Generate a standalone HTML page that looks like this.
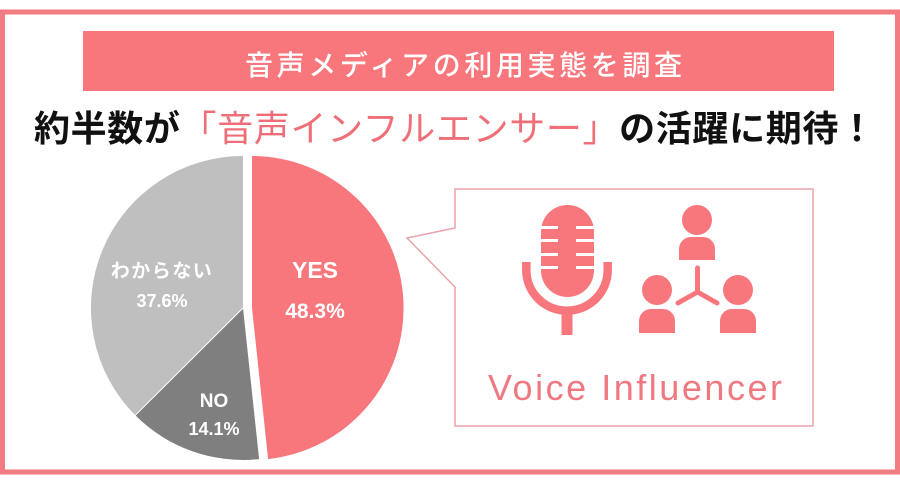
<!DOCTYPE html>
<html><head><meta charset="utf-8"><style>
html,body{margin:0;padding:0;background:#fff;}
svg{display:block;}
text{font-family:"Liberation Sans","Noto Sans CJK JP",sans-serif;}
.jp{font-family:"Noto Sans CJK JP","Liberation Sans",sans-serif;}
</style></head><body>
<svg width="900" height="490" viewBox="0 0 900 490" xmlns="http://www.w3.org/2000/svg">
<rect x="0" y="0" width="900" height="490" fill="#fff"/>
<!-- outer frame -->
<rect x="2.5" y="12" width="895" height="460" fill="#fff" stroke="#f37b82" stroke-width="5"/>
<!-- banner -->
<rect x="83" y="31" width="751" height="60" fill="#f8777d"/>
<text class="jp" x="245" y="75" font-size="28" font-weight="500" fill="#fff" textLength="437" lengthAdjust="spacing">音声メディアの利用実態を調査</text>
<!-- headline -->
<text class="jp" x="34" y="141" font-size="36" font-weight="bold" fill="#111" textLength="841" lengthAdjust="spacing">約半数が<tspan fill="#ef6f78" font-weight="normal">「音声インフルエンサー」</tspan>の活躍に期待！</text>

<!-- pie: center (243,308), r 152 -->
<!-- gray わからない from 224.6deg to 360 -->
<path d="M243 308 L135.3 415.3 A152 152 0 0 1 243 156 Z" fill="#bfbfbf"/>
<!-- NO from 173.9 to 224.6 -->
<path d="M243 308 L259.1 459.1 A152 152 0 0 1 135.3 415.3 Z" fill="#7f7f7f"/>
<line x1="243" y1="308" x2="135.3" y2="415.3" stroke="#fff" stroke-width="1"/>
<!-- YES offset +9 -->
<path d="M252 308 L252 156 A152 152 0 0 1 268.1 459.1 Z" fill="#f8777d"/>

<text x="162" y="277" class="jp" font-size="19" font-weight="bold" fill="#fff" text-anchor="middle" letter-spacing="1.5">わからない</text>
<text x="162" y="307" font-size="18" font-weight="bold" fill="#fff" text-anchor="middle">37.6%</text>
<text x="214" y="407" font-size="19" font-weight="bold" fill="#fff" text-anchor="middle">NO</text>
<text x="214" y="435" font-size="18" font-weight="bold" fill="#fff" text-anchor="middle">14.1%</text>
<text x="315" y="278" font-size="23" font-weight="bold" fill="#fff" text-anchor="middle">YES</text>
<text x="315" y="318" font-size="21" font-weight="bold" fill="#fff" text-anchor="middle">48.3%</text>

<!-- callout -->
<path d="M455 189 H813 V426 H455 V287 L407 238 L455 228 Z" fill="#fff" stroke="#e8a4ab" stroke-width="1.5"/>

<!-- mic -->
<g fill="#f8777d">
<rect x="541" y="205" width="53" height="92" rx="26.5" ry="26.5"/>
</g>
<g fill="#fff">
<rect x="541" y="226" width="17" height="3"/><rect x="576" y="226" width="18" height="3"/>
<rect x="541" y="239" width="17" height="3"/><rect x="576" y="239" width="18" height="3"/>
<rect x="541" y="253" width="17" height="3"/><rect x="576" y="253" width="18" height="3"/>
<rect x="541" y="266" width="17" height="3"/><rect x="576" y="266" width="18" height="3"/>
</g>
<path d="M526.3 262 V270 A40.7 40.7 0 0 0 607.7 270 V262" fill="none" stroke="#f8777d" stroke-width="8.5"/>
<rect x="561.5" y="310" width="11" height="25" fill="#f8777d"/>

<!-- people -->
<g fill="#f8777d">
<circle cx="697" cy="220" r="15"/>
<path d="M679 260 V249 A12 12 0 0 1 691 237 H703 A12 12 0 0 1 715 249 V260 Z"/>
<circle cx="657" cy="290" r="15"/>
<path d="M639 333 V321 A12 12 0 0 1 651 309 H663 A12 12 0 0 1 675 321 V333 Z"/>
<circle cx="738" cy="290" r="15"/>
<path d="M720 333 V321 A12 12 0 0 1 732 309 H744 A12 12 0 0 1 756 321 V333 Z"/>
</g>
<path d="M697.5 268 V292 M697.5 292 L678 303 M697.5 292 L717 303" fill="none" stroke="#f8777d" stroke-width="5" stroke-linecap="round"/>

<text x="488" y="400" font-size="36" fill="#f07880" textLength="294" lengthAdjust="spacing">Voice Influencer</text>
</svg>
</body></html>
